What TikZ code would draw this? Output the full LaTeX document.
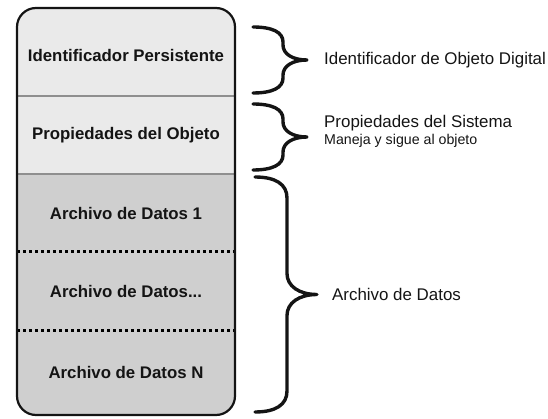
\documentclass[tikz,border=0pt]{standalone}
\usepackage{fontspec}
\setmainfont{Liberation Sans}
\usetikzlibrary{positioning}
\definecolor{paleGray}{HTML}{EAEAEA}
\definecolor{dataGray}{HTML}{CFCFCF}
\definecolor{inkGray}{HTML}{141414}
\definecolor{ruleGray}{HTML}{8F8F8F}
\tikzset{
	section/.style = {rectangle, minimum width=218pt, inner sep=0pt, outer sep=0pt,
	    text=inkGray, font=\fontsize{16.8}{20}\selectfont\bfseries},
	dots/.style = {line width=3pt, dash pattern=on 3pt off 3pt, black},
	rule/.style = {line width=1.2pt, ruleGray},
	brace line/.style = {line width=3.4pt, inkGray, line cap=round, line join=round},
	side text/.style = {text=inkGray, font=\fontsize{16.9}{17}\selectfont,
	    inner sep=0pt, align=left}}
% name, x, top, bottom, neck, tip, curl
\newcommand{\curly}[7]{%
	\pgfmathsetmacro{\cxa}{#2+#5}
	\pgfmathsetmacro{\cxb}{#2+#6}
	\pgfmathsetmacro{\cym}{(#3+#4)/2}
	\draw[brace line] (#2,#3) .. controls ({#2+0.65*#5},#3) and (\cxa,{#3+0.35*#7}) .. (\cxa,{#3+#7})
	    -- (\cxa,{\cym-#7}) .. controls (\cxa,{\cym-0.4*#7}) and ({\cxa+0.4*(#6-#5)},\cym) .. (\cxb,\cym)
	    .. controls ({\cxa+0.4*(#6-#5)},\cym) and (\cxa,{\cym+0.4*#7}) .. (\cxa,{\cym+#7})
	    -- (\cxa,{#4-#7}) .. controls (\cxa,{#4-0.35*#7}) and ({#2+0.65*#5},#4) .. (#2,#4);
	\coordinate (#1) at (\cxb,\cym);}

\begin{document}
\begin{tikzpicture}[x=1pt, y=-1pt]
	\useasboundingbox (0,0) rectangle (548,419);
	\begin{scope}
	    \clip[rounded corners=19pt] (17,8) rectangle (235,415);
	    \node[section, fill=paleGray, minimum height=88pt, text height=20pt, anchor=north west] (I) at (17,8) {Identificador Persistente};
	    \node[section, fill=paleGray, minimum height=78pt, below=0pt of I] (P) {Propiedades del Objeto};
	    \node[section, fill=dataGray, minimum height=78pt, below=0pt of P] (D1) {Archivo de Datos 1};
	    \node[section, fill=dataGray, minimum height=78pt, below=0pt of D1] (D2) {Archivo de Datos...};
	    \node[section, fill=dataGray, minimum height=85pt, below=0pt of D2] (DN) {Archivo de Datos N};
	\end{scope}
	\draw[rule] (I.south west) -- (I.south east);
	\draw[rule] (P.south west) -- (P.south east);
	\draw[dots] (D1.south west) -- (D1.south east);
	\draw[dots] (D2.south west) -- (D2.south east);
	\draw[inkGray, line width=2.2pt, rounded corners=19pt] (17,8) rectangle (235,415);

	\curly{T1}{253}{27}{93}{30}{54}{15}
	\curly{T2}{253}{104}{170}{30}{54}{15}
	\curly{T3}{255}{177}{412}{32}{62}{21}

	\node[side text, right=17pt of T1] (L1) {Identificador de Objeto Digital};
	\node[side text, right=17pt of T2, yshift=6pt] (L2) {Propiedades del Sistema\\{\fontsize{14.2}{17}\selectfont Maneja y sigue al objeto}};
	\node[side text, right=15pt of T3] (L3) {Archivo de Datos};
\end{tikzpicture}
\end{document}
